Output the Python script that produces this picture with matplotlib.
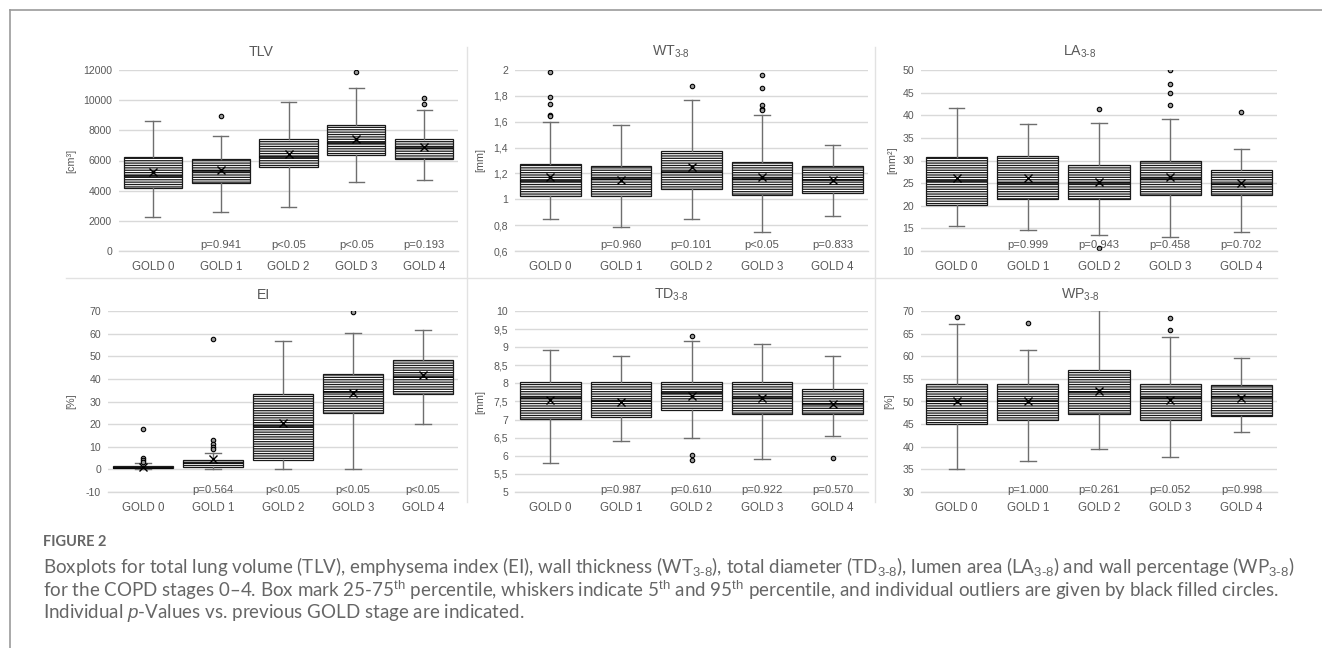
import matplotlib
matplotlib.use('Agg')
import matplotlib.pyplot as plt
from matplotlib.lines import Line2D
from matplotlib.ticker import FuncFormatter

W, H = 1322, 648
plt.rcParams['font.family'] = ['Liberation Sans', 'DejaVu Sans']
plt.rcParams['mathtext.fontset'] = 'custom'
plt.rcParams['mathtext.rm'] = 'Liberation Sans'
plt.rcParams['mathtext.it'] = 'Liberation Sans:italic'
plt.rcParams['hatch.linewidth'] = 0.9

# ---------------- data ----------------
groups = ['GOLD 0', 'GOLD 1', 'GOLD 2', 'GOLD 3', 'GOLD 4']

tlv_whislo = [2250, 2560, 2920, 4570, 4690]
tlv_q1 = [4200, 4490, 5550, 6340, 6120]
tlv_med = [5000, 5300, 6250, 7150, 6810]
tlv_q3 = [6210, 6120, 7400, 8330, 7450]
tlv_whishi = [8620, 7650, 9900, 10830, 9350]
tlv_mean = [5240, 5350, 6410, 7400, 6900]
tlv_fliers = [[], [8930], [], [11850], [10120, 9720]]
tlv_p = ['', 'p=0.941', 'p<0.05', 'p<0.05', 'p=0.193']
tlv_yticks = [0, 2000, 4000, 6000, 8000, 10000, 12000]

wt_whislo = [0.850, 0.788, 0.845, 0.750, 0.873]
wt_q1 = [1.025, 1.023, 1.077, 1.031, 1.049]
wt_med = [1.14, 1.16, 1.21, 1.16, 1.15]
wt_q3 = [1.273, 1.257, 1.373, 1.286, 1.260]
wt_whishi = [1.598, 1.572, 1.765, 1.649, 1.417]
wt_mean = [1.172, 1.149, 1.247, 1.175, 1.149]
wt_fliers = [[1.987, 1.794, 1.734, 1.652, 1.645], [], [1.879], [1.961, 1.861, 1.727, 1.700, 1.690], []]
wt_p = ['', 'p=0.960', 'p=0.101', 'p<0.05', 'p=0.833']
wt_yticks = [0.6, 0.8, 1.0, 1.2, 1.4, 1.6, 1.8, 2.0]

la_whislo = [15.5, 14.6, 13.5, 13.0, 14.1]
la_q1 = [20.2, 21.6, 21.6, 22.4, 22.4]
la_med = [25.5, 25.0, 25.0, 25.9, 24.8]
la_q3 = [30.7, 30.9, 28.9, 30.0, 28.0]
la_whishi = [41.6, 38.0, 38.2, 39.1, 32.5]
la_mean = [26.1, 26.2, 25.3, 26.4, 25.1]
la_fliers = [[], [], [41.3, 10.6], [50.0, 46.8, 45.0, 42.2], [40.8]]
la_p = ['', 'p=0.999', 'p=0.943', 'p=0.458', 'p=0.702']
la_yticks = [10, 15, 20, 25, 30, 35, 40, 45, 50]

ei_whislo = [0.0, 0.1, 0.1, 0.1, 20.0]
ei_q1 = [0.4, 0.9, 4.3, 24.9, 33.2]
ei_med = [0.7, 2.6, 19.0, 34.0, 41.0]
ei_q3 = [1.3, 4.3, 33.4, 42.2, 48.5]
ei_whishi = [2.6, 7.2, 56.9, 60.1, 61.6]
ei_mean = [1.0, 4.7, 20.4, 33.7, 41.5]
ei_fliers = [[17.9, 5.2, 4.3, 3.1], [57.8, 13.2, 11.3, 10.1, 9.1], [], [69.6], []]
ei_p = ['', 'p=0.564', 'p<0.05', 'p<0.05', 'p<0.05']
ei_yticks = [-10, 0, 10, 20, 30, 40, 50, 60, 70]

td_whislo = [5.80, 6.41, 6.48, 5.91, 6.54]
td_q1 = [7.02, 7.08, 7.27, 7.15, 7.15]
td_med = [7.61, 7.50, 7.73, 7.60, 7.42]
td_q3 = [8.05, 8.03, 8.05, 8.05, 7.84]
td_whishi = [8.91, 8.75, 9.16, 9.10, 8.77]
td_mean = [7.55, 7.49, 7.66, 7.61, 7.44]
td_fliers = [[], [], [9.31, 6.03, 5.89], [], [5.95]]
td_p = ['', 'p=0.987', 'p=0.610', 'p=0.922', 'p=0.570']
td_yticks = [5, 5.5, 6, 6.5, 7, 7.5, 8, 8.5, 9, 9.5, 10]

wp_whislo = [35.1, 36.8, 39.5, 37.8, 43.3]
wp_q1 = [45.1, 46.0, 47.2, 46.0, 46.7]
wp_med = [50.0, 50.0, 52.0, 50.7, 51.0]
wp_q3 = [53.9, 53.8, 57.0, 53.8, 53.6]
wp_whishi = [67.2, 61.3, 70.3, 64.2, 59.6]
wp_mean = [50.1, 50.1, 52.4, 50.4, 50.7]
wp_fliers = [[68.75], [67.4], [], [68.5, 65.8], []]
wp_p = ['', 'p=1.000', 'p=0.261', 'p=0.052', 'p=0.998']
wp_yticks = [30, 35, 40, 45, 50, 55, 60, 65, 70]

TXT = '#595959'
GRID = '#d9d9d9'

fig = plt.figure(figsize=(W / 100, H / 100), dpi=100)


def fx(px):
    return px / W


def fy(py):
    return 1 - py / H


def comma_fmt(v, pos):
    s = ('%g' % v)
    return s.replace('.', ',')


panels = [
    dict(title='TLV', ylabel='[cm³]', rect=(119, 70, 458, 251), tx=261, ty=52, lx=71,
         d=(tlv_whislo, tlv_q1, tlv_med, tlv_q3, tlv_whishi, tlv_mean, tlv_fliers), p=tlv_p, ticks=tlv_yticks, poff=6),
    dict(title='WT$_{3‐8}$', ylabel='[mm]', rect=(515, 70, 868, 251), tx=671, ty=52, lx=480,
         d=(wt_whislo, wt_q1, wt_med, wt_q3, wt_whishi, wt_mean, wt_fliers), p=wt_p, ticks=wt_yticks, poff=6),
    dict(title='LA$_{3‐8}$', ylabel='[mm²]', rect=(921, 70, 1277, 251), tx=1080, ty=52, lx=892,
         d=(la_whislo, la_q1, la_med, la_q3, la_whishi, la_mean, la_fliers), p=la_p, ticks=la_yticks, poff=6),
    dict(title='EI', ylabel='[%]', rect=(108, 311, 458, 492), tx=263, ty=295, lx=71,
         d=(ei_whislo, ei_q1, ei_med, ei_q3, ei_whishi, ei_mean, ei_fliers), p=ei_p, ticks=ei_yticks, poff=2),
    dict(title='TD$_{3‐8}$', ylabel='[mm]', rect=(515, 311, 868, 492), tx=671, ty=295, lx=480,
         d=(td_whislo, td_q1, td_med, td_q3, td_whishi, td_mean, td_fliers), p=td_p, ticks=td_yticks, poff=2),
    dict(title='WP$_{3‐8}$', ylabel='[%]', rect=(921, 311, 1277, 492), tx=1080, ty=295, lx=889,
         d=(wp_whislo, wp_q1, wp_med, wp_q3, wp_whishi, wp_mean, wp_fliers), p=wp_p, ticks=wp_yticks, poff=2),
]

for pn in panels:
    l, t, r, b = pn['rect']
    ax = fig.add_axes([fx(l), fy(b), fx(r - l), (b - t) / H])
    whislo, q1, med, q3, whishi, mean, fliers = pn['d']
    stats = []
    for i in range(len(groups)):
        stats.append(dict(whislo=whislo[i], q1=q1[i], med=med[i], q3=q3[i],
                          whishi=whishi[i], mean=mean[i], fliers=fliers[i]))
    ax.bxp(stats, positions=list(range(len(groups))), widths=0.86, capwidths=0.22,
           patch_artist=True, showmeans=True, showfliers=True,
           boxprops=dict(facecolor='white', edgecolor='#1a1a1a', hatch='-------', linewidth=0.9),
           medianprops=dict(color='black', linewidth=1.1),
           whiskerprops=dict(color='#6e6e6e', linewidth=1.0),
           capprops=dict(color='#6e6e6e', linewidth=1.0),
           meanprops=dict(marker='x', markeredgecolor='black', markersize=6, markeredgewidth=1.0),
           flierprops=dict(marker='o', markersize=3.2, markerfacecolor='#9a9a9a',
                           markeredgecolor='black', markeredgewidth=0.8))
    ax.set_xlim(-0.5, len(groups) - 0.5)
    ticks = pn['ticks']
    ax.set_ylim(ticks[0], ticks[-1])
    ax.set_yticks(ticks)
    ax.yaxis.set_major_formatter(FuncFormatter(comma_fmt))
    ax.set_xticks(list(range(len(groups))))
    ax.set_xticklabels(groups)
    ax.tick_params(axis='both', length=0, colors=TXT)
    ax.tick_params(axis='y', labelsize=7.6, pad=5)
    ax.tick_params(axis='x', labelsize=8.3, pad=7)
    for s in ['left', 'right', 'top']:
        ax.spines[s].set_visible(False)
    ax.spines['bottom'].set_color(GRID)
    ax.spines['bottom'].set_linewidth(1.0)
    ax.grid(axis='y', color=GRID, linewidth=1.0)
    ax.set_axisbelow(True)
    for i, ptxt in enumerate(pn['p']):
        if ptxt:
            ax.annotate(ptxt, xy=(i, 0), xycoords=('data', 'axes fraction'),
                        xytext=(0, pn['poff'] * 0.72), textcoords='offset points',
                        ha='center', va='center', fontsize=8.1, color=TXT)
    fig.text(fx(pn['tx']), fy(pn['ty']), pn['title'], ha='center', va='center',
             fontsize=10.2, color=TXT)
    fig.text(fx(pn['lx']), fy((t + b) / 2), pn['ylabel'], ha='center', va='center',
             rotation=90, fontsize=7.8, color=TXT)

# separators between panels
sep = '#e2e2e2'
fig.add_artist(Line2D([fx(66), fx(1277)], [fy(278), fy(278)], color=sep, lw=1.0))
fig.add_artist(Line2D([fx(467), fx(467)], [fy(47), fy(502)], color=sep, lw=1.0))
fig.add_artist(Line2D([fx(875), fx(875)], [fy(47), fy(502)], color=sep, lw=1.0))

# outer frame (top and left)
frame = '#9b9b9b'
fig.add_artist(Line2D([fx(10), fx(W)], [fy(10), fy(10)], color=frame, lw=1.2))
fig.add_artist(Line2D([fx(10), fx(10)], [fy(10), fy(H)], color=frame, lw=1.2))

# caption
cap_font = ['Lato', 'DejaVu Sans']
fig.text(fx(43), fy(542), 'FIGURE 2', ha='left', va='center', fontsize=10.5,
         fontweight='bold', color='#666666', family=cap_font)
lines = [
    'Boxplots for total lung volume (TLV), emphysema index (EI), wall thickness (WT$_{3‐8}$), '
    'total diameter (TD$_{3‐8}$), lumen area (LA$_{3‐8}$) and wall percentage (WP$_{3‐8}$)',
    'for the COPD stages 0–4. Box mark 25-75$^{\\mathrm{th}}$ percentile, whiskers indicate 5$^{\\mathrm{th}}$ '
    'and 95$^{\\mathrm{th}}$ percentile, and individual outliers are given by black filled circles.',
    'Individual $\\mathit{p}$-Values vs. previous GOLD stage are indicated.',
]
ys = [566, 590, 613]
txts = []
for s, yy in zip(lines, ys):
    txts.append(fig.text(fx(43), fy(yy), s, ha='left', va='center', fontsize=12,
                         color='#666666', family=cap_font))
fig.canvas.draw()
rend = fig.canvas.get_renderer()
w0 = txts[0].get_window_extent(rend).width
scale = (1293 - 43) / w0
for tt in txts:
    tt.set_fontsize(12 * scale)

fig.savefig('out.png', dpi=100)
